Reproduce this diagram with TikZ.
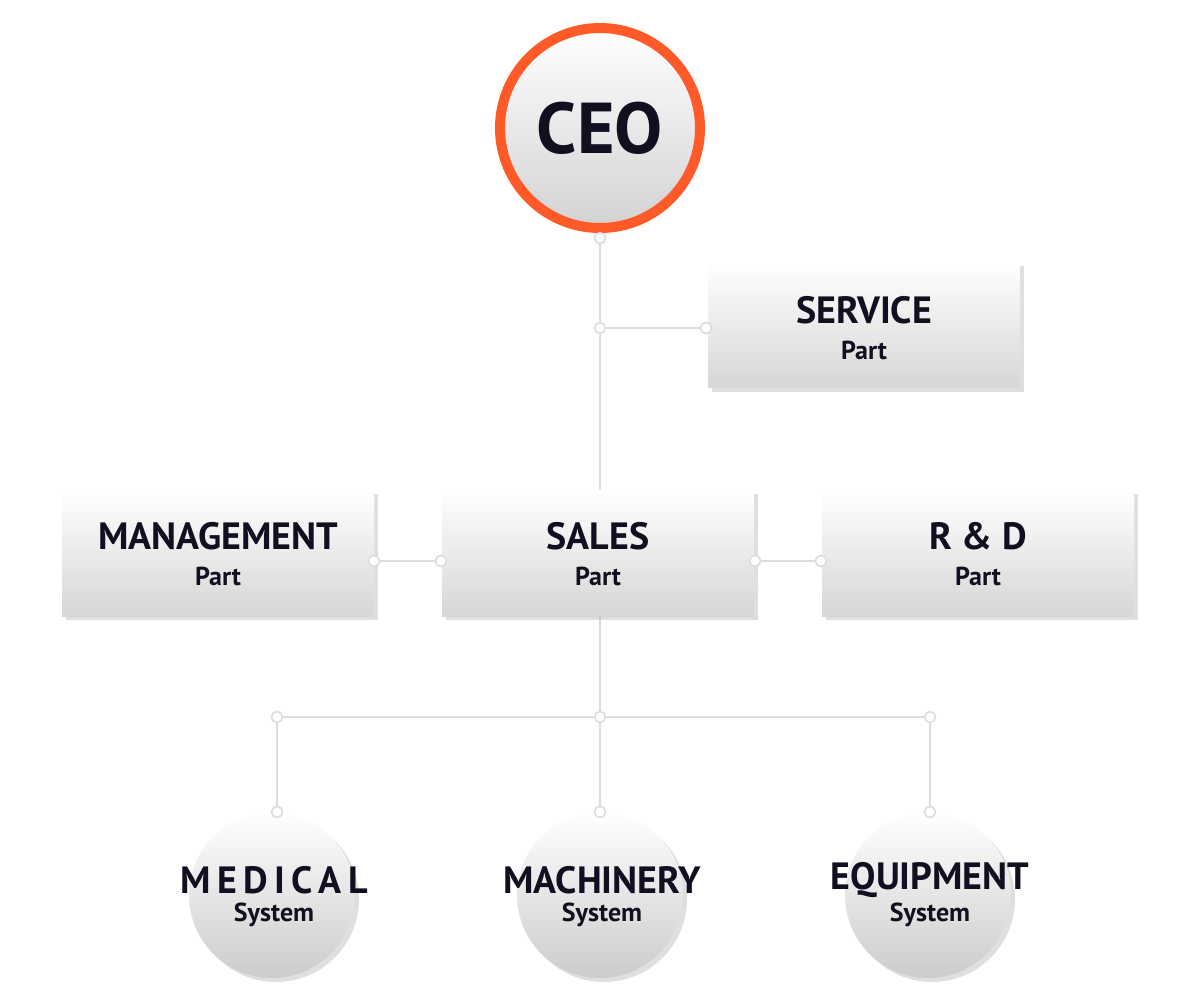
\documentclass[tikz,border=0pt]{standalone}
\usepackage{fontspec}
\setmainfont{PT Sans}
\usetikzlibrary{shadows}
\definecolor{ln}{HTML}{DDDDDD}
\definecolor{orng}{HTML}{FF5A28}
\definecolor{txt}{HTML}{101020}
\begin{document}
\begin{tikzpicture}[x=0.5pt,y=-0.5pt,
  box/.style={draw=none,top color=white,bottom color=gray!32,minimum width=156pt,minimum height=63pt,inner sep=0pt,
     drop shadow={shadow xshift=2pt,shadow yshift=-2pt,opacity=0.25}},
  sys/.style={circle,draw=none,top color=white,bottom color=gray!40,minimum size=83pt,inner sep=0pt,
     drop shadow={shadow xshift=2pt,shadow yshift=-2pt,opacity=0.25}},
  ttl/.style={text=txt,font=\bfseries\fontsize{19}{22}\selectfont,inner sep=1pt},
  sub/.style={text=txt,font=\bfseries\fontsize{13}{15}\selectfont,inner sep=1pt},
  dot/.style={circle,draw=ln,fill=white,line width=0.8pt,minimum size=5.5pt,inner sep=0pt},
  cn/.style={draw=ln,line width=1.2pt}]
\useasboundingbox (0,0) rectangle (1200,1000);
\node[dot] (d0) at (600,238) {};
\node[dot] (d1) at (600,328) {};
\node[dot] (d2) at (706,328) {};
\node[dot] (d3) at (374,561) {};
\node[dot] (d4) at (441,561) {};
\node[dot] (d5) at (755,561) {};
\node[dot] (d6) at (821,561) {};
\node[dot] (d7) at (277,717) {};
\node[dot] (d8) at (600,717) {};
\node[dot] (d9) at (930,717) {};
\node[dot] (e1) at (277,812) {};
\node[dot] (e2) at (600,812) {};
\node[dot] (e3) at (930,812) {};
\coordinate (s0) at (600,490);
\coordinate (s1) at (600,617);
\draw[cn] (d0) -- (d1) -- (s0);
\draw[cn] (d1) -- (d2);
\draw[cn] (d3) -- (d4);
\draw[cn] (d5) -- (d6);
\draw[cn] (s1) -- (d8);
\draw[cn] (d7) -- (d8) -- (d9);
\draw[cn] (d7) -- (e1);
\draw[cn] (d8) -- (e2);
\draw[cn] (d9) -- (e3);
% CEO
\node[circle,draw=orng,line width=5pt,top color=white,bottom color=gray!35,minimum size=100pt,inner sep=0pt,
  drop shadow={shadow xshift=1pt,shadow yshift=-1pt,opacity=0.2}] (ceo) at (600,128)
  {\fontsize{36}{40}\selectfont\bfseries\color{txt}CEO};
% boxes
\node[box] (svc) at (864,325) {};
\node[box] (mgt) at (218,553) {};
\node[box] (sal) at (598,553) {};
\node[box] (rd) at (978,553) {};
\node[ttl] (svct) at (864,310) {SERVICE};
\node[sub] (svcs) at (864,350) {Part};
\node[ttl] (mgtt) at (218,536) {MANAGEMENT};
\node[sub] (mgts) at (218,576) {Part};
\node[ttl] (salt) at (598,536) {SALES};
\node[sub] (sals) at (598,576) {Part};
\node[ttl] (rdt) at (978,536) {R \& D};
\node[sub] (rds) at (978,576) {Part};
% systems
\node[sys] (med) at (272,895) {};
\node[sys] (mac) at (600,895) {};
\node[sys] (equ) at (928,895) {};
\node[ttl] (medt) at (274,880) {M\,E\,D\,I\,C\,A\,L};
\node[sub] (meds) at (274,915) {System};
\node[ttl] (mact) at (602,880) {MACHINERY};
\node[sub] (macs) at (602,915) {System};
\node[ttl] (equt) at (930,880) {EQUIPMENT};
\node[sub] (equs) at (930,915) {System};
\foreach \n in {d0,d2,d3,d4,d5,d6,e1,e2,e3} \node[dot] at (\n) {};
\end{tikzpicture}
\end{document}
